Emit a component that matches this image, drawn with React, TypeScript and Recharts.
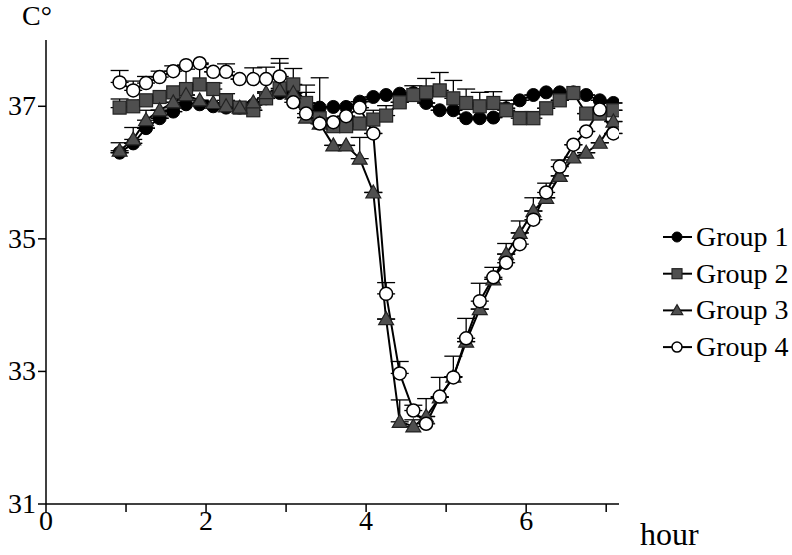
import React from 'react';
import { LineChart, Line, XAxis, YAxis, ErrorBar, Legend, Customized } from 'recharts';

const hours = [0.92, 1.09, 1.25, 1.42, 1.59, 1.75, 1.92, 2.09, 2.25, 2.42, 2.59, 2.75, 2.92, 3.09, 3.25, 3.42, 3.59, 3.75, 3.92, 4.09, 4.25, 4.42, 4.59, 4.75, 4.92, 5.09, 5.25, 5.42, 5.59, 5.75, 5.92, 6.09, 6.25, 6.42, 6.59, 6.75, 6.92, 7.09];

const group1 = [36.30, 36.44, 36.67, 36.82, 36.92, 37.03, 37.03, 37.00, 36.98, 36.98, 37.02, 37.12, 37.20, 37.14, 37.05, 36.98, 36.99, 36.99, 37.07, 37.14, 37.17, 37.19, 37.20, 37.05, 36.94, 36.94, 36.82, 36.82, 36.83, 36.97, 37.09, 37.17, 37.21, 37.21, 37.21, 37.17, 37.09, 37.05];
const group2 = [36.98, 37.00, 37.09, 37.14, 37.21, 37.26, 37.33, 37.26, 37.09, 36.98, 36.94, 37.12, 37.27, 37.33, 37.05, 36.82, 36.70, 36.70, 36.74, 36.80, 36.86, 37.06, 37.17, 37.21, 37.24, 37.12, 37.05, 37.00, 37.05, 36.94, 36.82, 36.82, 36.97, 37.09, 37.20, 36.89, 36.89, 36.94];
const group3 = [36.33, 36.50, 36.79, 36.94, 37.06, 37.17, 37.09, 37.05, 37.00, 36.98, 37.06, 37.20, 37.24, 37.20, 36.83, 36.74, 36.41, 36.41, 36.21, 35.70, 33.79, 32.24, 32.17, 32.32, 32.61, 32.92, 33.45, 33.94, 34.39, 34.77, 35.09, 35.42, 35.62, 35.95, 36.23, 36.30, 36.45, 36.77];
const group4 = [37.36, 37.24, 37.35, 37.44, 37.53, 37.62, 37.65, 37.52, 37.52, 37.41, 37.41, 37.41, 37.45, 37.06, 36.89, 36.74, 36.76, 36.85, 36.98, 36.59, 34.17, 32.97, 32.41, 32.21, 32.62, 32.91, 33.50, 34.06, 34.42, 34.64, 34.92, 35.29, 35.70, 36.09, 36.42, 36.62, 36.95, 36.59];

// upper error (SEM) per point
const err1 = [0, 0, 0, 0, 0, 0, 0, 0, 0, 0, 0, 0, 0, 0, 0, 0.45, 0, 0, 0, 0, 0, 0, 0, 0, 0, 0, 0, 0, 0, 0, 0, 0, 0, 0, 0, 0, 0, 0];
const err2 = [0.13, 0.05, 0, 0, 0, 0.3, 0.3, 0.09, 0.1, 0.05, 0, 0.1, 0.38, 0.24, 0.27, 0, 0, 0, 0, 0.14, 0.15, 0, 0.14, 0.21, 0.27, 0.27, 0.21, 0.21, 0.17, 0.15, 0.1, 0.1, 0, 0, 0, 0, 0, 0];
const err3 = [0.12, 0.18, 0.15, 0, 0, 0, 0, 0, 0, 0, 0, 0, 0, 0, 0, 0, 0, 0, 0.32, 0, 0, 0.33, 0.1, 0, 0, 0, 0, 0, 0, 0, 0, 0, 0, 0, 0, 0, 0, 0];
const err4 = [0.18, 0.14, 0.1, 0.09, 0.08, 0, 0, 0, 0.12, 0, 0.17, 0.18, 0.27, 0.05, 0.32, 0, 0, 0, 0, 0, 0.17, 0.18, 0.08, 0.38, 0.29, 0.32, 0.3, 0.27, 0.15, 0.29, 0.35, 0.33, 0.14, 0.1, 0, 0, 0, 0];

const xTicks = [0, 1, 2, 3, 4, 5, 6, 7];
const xLabelTicks = [0, 2, 4, 6];
const yTicks = [31, 33, 35, 37];
const groupNames = ['Group 1', 'Group 2', 'Group 3', 'Group 4'];

const FONT = 'Liberation Serif, Times New Roman, DejaVu Serif, serif';
const textStyle = { fontFamily: FONT, fontSize: 28 };
const GRAY = '#4f4f4f';

function markerShape(kind: number, cx: number, cy: number, s: number, key?: any) {
  if (kind === 0) return <circle key={key} cx={cx} cy={cy} r={s} fill="#000" stroke="#000" strokeWidth={1} />;
  if (kind === 1) return <rect key={key} x={cx - s} y={cy - s} width={2 * s} height={2 * s} fill={GRAY} stroke="#222" strokeWidth={1.2} />;
  if (kind === 2)
    return (
      <polygon
        key={key}
        points={`${cx},${cy - s * 1.15} ${cx + s * 1.15},${cy + s * 0.85} ${cx - s * 1.15},${cy + s * 0.85}`}
        fill={GRAY}
        stroke="#222"
        strokeWidth={1.2}
      />
    );
  return <circle key={key} cx={cx} cy={cy} r={s} fill="#fff" stroke="#000" strokeWidth={1.5} />;
}

const makeDot = (kind: number) => (props: any) => {
  const { cx, cy, index } = props;
  if (cx == null || cy == null) return <g key={`d-${kind}-${index}`} />;
  return markerShape(kind, cx, cy, 6.5, `d-${kind}-${index}`);
};

const XTick = (props: any) => {
  const { x, y, payload } = props;
  if (!xLabelTicks.includes(payload.value)) return <g />;
  return (
    <text x={x} y={y} dy={16} textAnchor="middle" style={textStyle} fill="#000">
      {payload.value}
    </text>
  );
};

const YTick = (props: any) => {
  const { x, y, payload } = props;
  return (
    <text x={x} y={y} dy={9} textAnchor="end" style={textStyle} fill="#000">
      {payload.value}
    </text>
  );
};

const renderLegend = () => (
  <svg width={132} height={160}>
    {groupNames.map((name, i) => {
      const y = 19 + i * 36.7;
      return (
        <g key={name}>
          <line x1={3} x2={32} y1={y} y2={y} stroke="#000" strokeWidth={2} />
          {markerShape(i, 17, y, 5)}
          <text x={36} y={y + 9} style={textStyle} fill="#000">
            {name}
          </text>
        </g>
      );
    })}
  </svg>
);

const Labels = () => (
  <g>
    <text x={22} y={25} style={textStyle} fill="#000">C°</text>
    <text x={640} y={545} style={{ fontFamily: FONT, fontSize: 32 }} fill="#000">hour</text>
  </g>
);

export default function App() {
  const data = hours.map((t, i) => ({
    t,
    g1: group1[i],
    g2: group2[i],
    g3: group3[i],
    g4: group4[i],
    e1: [0, err1[i]],
    e2: [0, err2[i]],
    e3: [0, err3[i]],
    e4: [0, err4[i]],
  }));

  const lineProps = { stroke: '#000', strokeWidth: 2, isAnimationActive: false, activeDot: false as any, type: 'linear' as const };
  const ebProps = { width: 9, stroke: '#000', strokeWidth: 1.3, direction: 'y' as const };

  return (
    <div style={{ position: 'absolute', left: 0, top: 0, width: 792, height: 555, background: '#fff', fontFamily: FONT }}>
      <LineChart width={792} height={555} data={data} margin={{ top: 40, right: 173, bottom: 0, left: 0 }}>
        <XAxis
          dataKey="t"
          type="number"
          domain={[0, 7.16]}
          ticks={xTicks}
          interval={0}
          height={51}
          tickSize={8}
          tickMargin={2}
          axisLine={{ stroke: '#000', strokeWidth: 1.5 }}
          tickLine={{ stroke: '#000', strokeWidth: 1.5 }}
          tick={<XTick />}
          allowDataOverflow
        />
        <YAxis
          type="number"
          domain={[31, 38]}
          ticks={yTicks}
          interval={0}
          width={46}
          tickSize={8}
          tickMargin={2}
          axisLine={{ stroke: '#000', strokeWidth: 1.5 }}
          tickLine={{ stroke: '#000', strokeWidth: 1.5 }}
          tick={<YTick />}
          allowDataOverflow
        />
        <Line dataKey="g1" {...lineProps} dot={makeDot(0)}>
          <ErrorBar dataKey="e1" {...ebProps} />
        </Line>
        <Line dataKey="g2" {...lineProps} dot={makeDot(1)}>
          <ErrorBar dataKey="e2" {...ebProps} />
        </Line>
        <Line dataKey="g3" {...lineProps} dot={makeDot(2)}>
          <ErrorBar dataKey="e3" {...ebProps} />
        </Line>
        <Line dataKey="g4" {...lineProps} dot={makeDot(3)}>
          <ErrorBar dataKey="e4" {...ebProps} />
        </Line>
        <Legend
          layout="vertical"
          align="center"
          verticalAlign="middle"
          content={renderLegend}
          wrapperStyle={{ left: 660, top: 218, width: 132, height: 160 }}
        />
        <Customized component={Labels} />
      </LineChart>
    </div>
  );
}
